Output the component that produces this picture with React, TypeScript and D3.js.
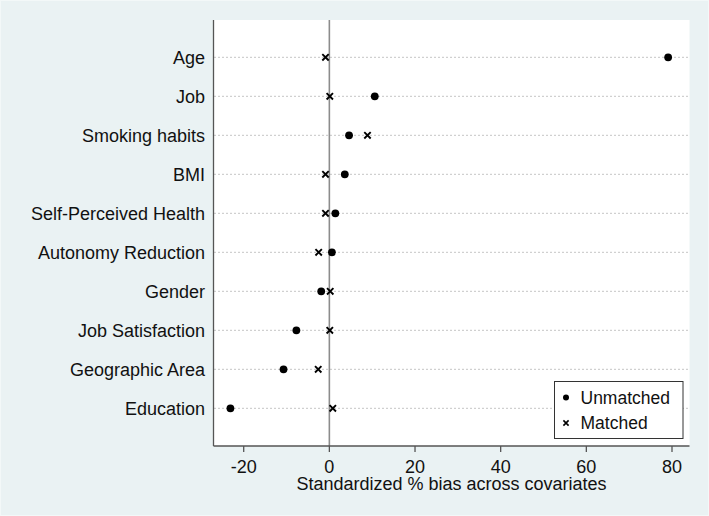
import React from "react";
import * as d3 from "d3";

const categories = [
  "Age",
  "Job",
  "Smoking habits",
  "BMI",
  "Self-Perceived Health",
  "Autonomy Reduction",
  "Gender",
  "Job Satisfaction",
  "Geographic Area",
  "Education",
];
const unmatched = [79.1, 10.6, 4.6, 3.6, 1.4, 0.6, -1.9, -7.7, -10.7, -23.1];
const matched = [-0.9, 0.1, 8.9, -0.9, -0.9, -2.5, 0.2, 0.1, -2.6, 0.8];
const xTicks = [-20, 0, 20, 40, 60, 80];
const xTitle = "Standardized % bias across covariates";
const legendLabels = ["Unmatched", "Matched"];

const W = 709;
const H = 516;
const plot = { left: 213.5, right: 689.5, top: 20, bottom: 446 };
const FONT = "'Liberation Sans', Arial, sans-serif";

function Cross({ cx, cy, s, w }: { cx: number; cy: number; s: number; w: number }) {
  return (
    <path
      d={`M${cx - s},${cy - s}L${cx + s},${cy + s}M${cx - s},${cy + s}L${cx + s},${cy - s}`}
      stroke="#000"
      strokeWidth={w}
      fill="none"
    />
  );
}

export default function App() {
  const x = d3
    .scaleLinear()
    .domain([-20, 80])
    .range([243.7, 672]);
  const y = d3
    .scalePoint<string>()
    .domain(categories)
    .range([57.3, 408.3]);

  return (
    <svg
      width={W}
      height={H}
      style={{ position: "absolute", left: 0, top: 0, display: "block" }}
      fontFamily={FONT}
    >
      <rect x={0} y={0} width={W} height={H} fill="#EAF2F3" />
      <rect x={0.5} y={0.5} width={W - 1} height={H - 1} fill="none" stroke="#F3F8F8" strokeWidth={1} />
      <rect
        x={plot.left}
        y={plot.top}
        width={plot.right - plot.left}
        height={plot.bottom - plot.top}
        fill="#FFFFFF"
      />
      {/* dotted row lines */}
      {categories.map((c) => (
        <line
          key={"g" + c}
          x1={plot.left + 1}
          x2={plot.right + 1}
          y1={y(c)!}
          y2={y(c)!}
          stroke="#8a8a8a"
          strokeWidth={1}
          strokeDasharray="1,3"
        />
      ))}
      {/* zero line */}
      <line x1={x(0)} x2={x(0)} y1={plot.top} y2={plot.bottom} stroke="#8c8c8c" strokeWidth={1.6} />
      {/* axes */}
      <line x1={plot.left} x2={plot.left} y1={plot.top} y2={plot.bottom} stroke="#555" strokeWidth={1.3} />
      <line x1={plot.left} x2={plot.right} y1={plot.bottom} y2={plot.bottom} stroke="#555" strokeWidth={1.3} />
      {xTicks.map((t) => (
        <g key={"t" + t}>
          <line x1={x(t)} x2={x(t)} y1={plot.bottom} y2={plot.bottom + 6} stroke="#555" strokeWidth={1.3} />
          <text x={x(t)} y={472.5} textAnchor="middle" fontSize={18} fill="#111">
            {t}
          </text>
        </g>
      ))}
      <text x={(plot.left + plot.right) / 2} y={489.5} textAnchor="middle" fontSize={18} fill="#111">
        {xTitle}
      </text>
      {/* y labels */}
      {categories.map((c) => (
        <text key={"l" + c} x={205} y={y(c)! + 6.4} textAnchor="end" fontSize={18} fill="#111">
          {c}
        </text>
      ))}
      {/* markers */}
      {categories.map((c, i) => (
        <g key={"m" + c}>
          <circle cx={x(unmatched[i])} cy={y(c)!} r={3.9} fill="#000" />
          <Cross cx={x(matched[i])} cy={y(c)!} s={3.2} w={1.9} />
        </g>
      ))}
      {/* legend */}
      <rect x={554.5} y={381.5} width={128.5} height={57} fill="#fff" stroke="#333" strokeWidth={1} />
      <circle cx={566} cy={397.5} r={3} fill="#000" />
      <text x={580.5} y={403.8} fontSize={17.5} fill="#111">
        {legendLabels[0]}
      </text>
      <Cross cx={566} cy={423} s={2.6} w={1.6} />
      <text x={580.5} y={429.3} fontSize={17.5} fill="#111">
        {legendLabels[1]}
      </text>
    </svg>
  );
}
